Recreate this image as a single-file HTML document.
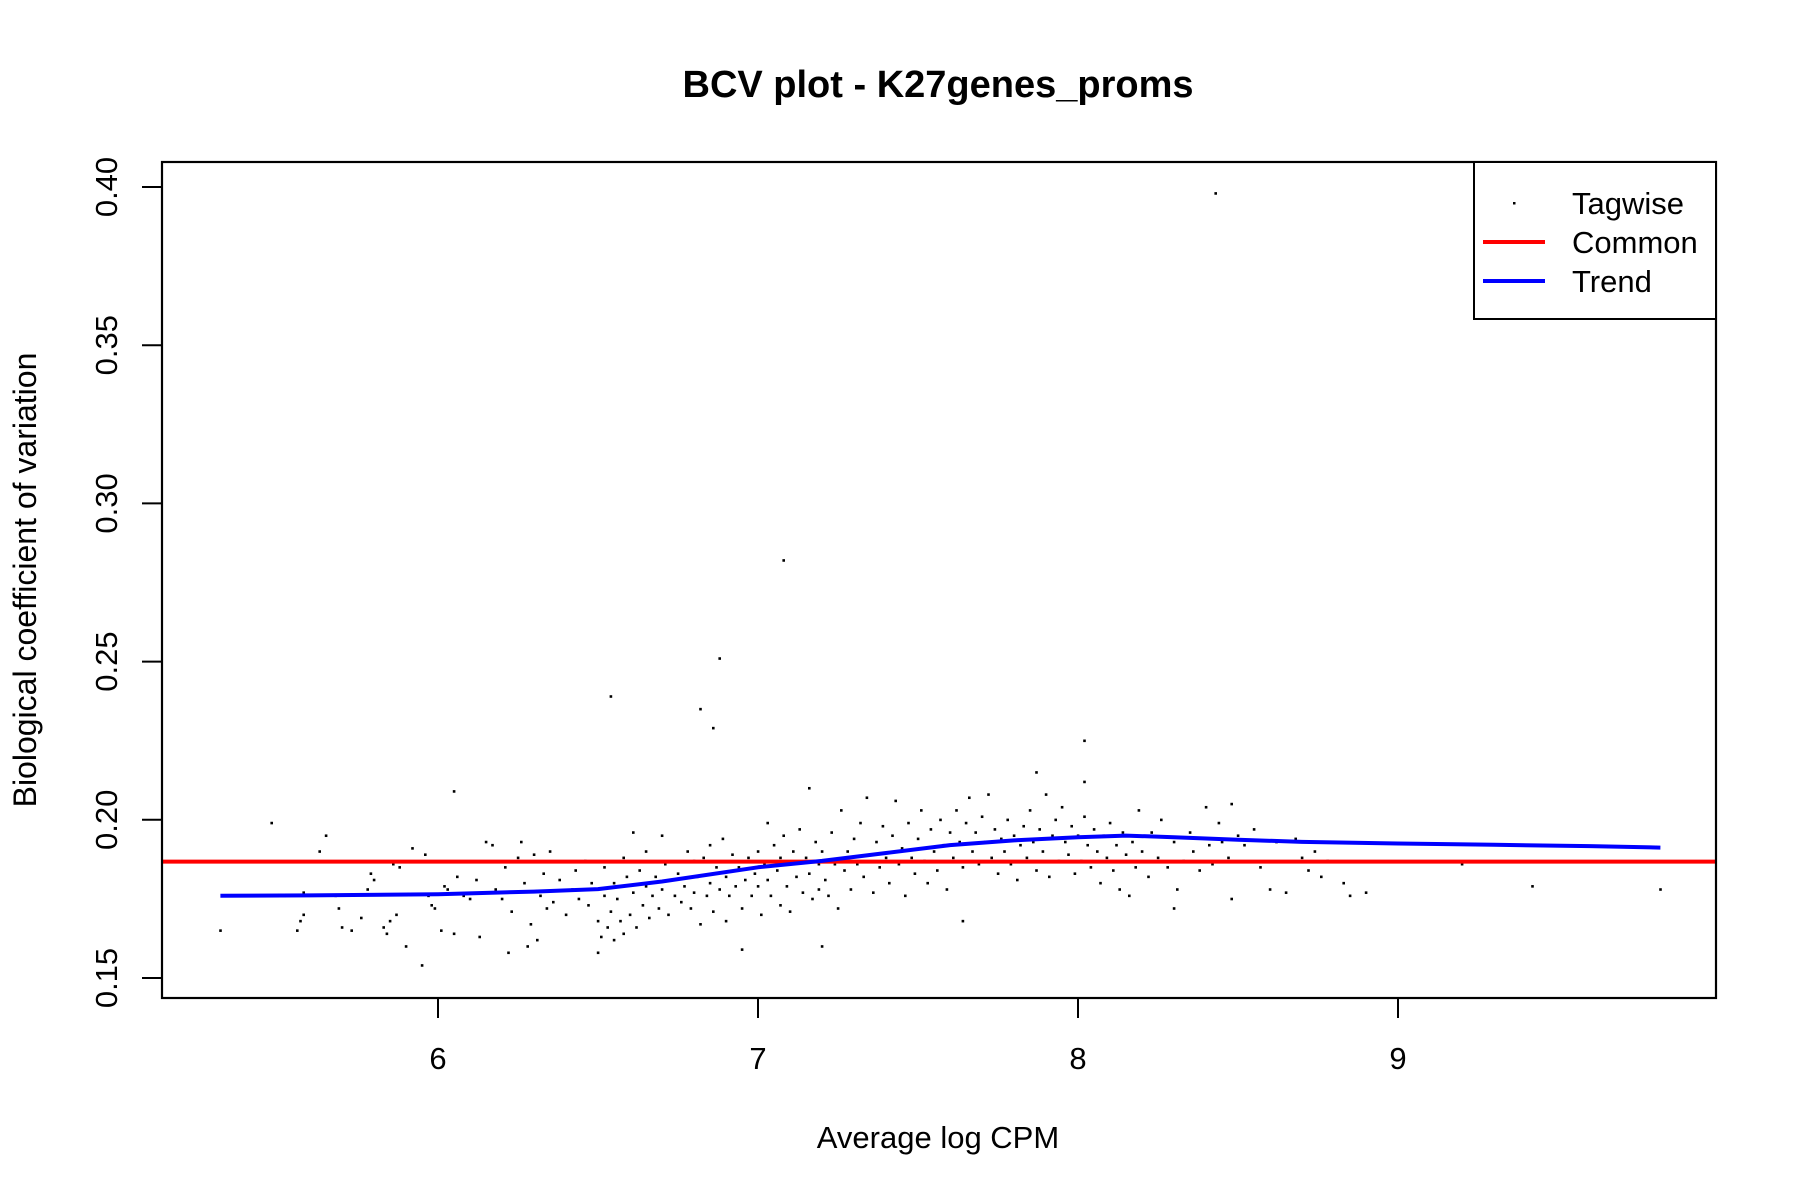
<!DOCTYPE html>
<html><head><meta charset="utf-8"><title>BCV plot</title>
<style>html,body{margin:0;padding:0;background:#fff}svg{display:block}text{font-family:"Liberation Sans",Arial,sans-serif}</style>
</head><body>
<svg id="chart" width="1800" height="1200" xmlns="http://www.w3.org/2000/svg">
<text x="938" y="97" text-anchor="middle" font-size="38" font-weight="bold">BCV plot - K27genes_proms</text>
<text x="938" y="1148" text-anchor="middle" font-size="31">Average log CPM</text>
<text transform="translate(36,580) rotate(-90)" text-anchor="middle" font-size="32">Biological coefficient of variation</text>
<g id="marks"></g>
<rect x="162" y="162" width="1554" height="836" fill="none" stroke="#000" stroke-width="2.2"/>
<g>
<rect x="1474" y="162" width="242" height="157" fill="#fff" stroke="#000" stroke-width="2"/>
<rect x="1513" y="202" width="2.5" height="2.5" fill="#000"/>
<text x="1572" y="214" font-size="31">Tagwise</text>
<line x1="1483" y1="242" x2="1545" y2="242" stroke="#ff0000" stroke-width="4"/>
<text x="1572" y="253" font-size="31">Common</text>
<line x1="1483" y1="281" x2="1545" y2="281" stroke="#0000ff" stroke-width="4"/>
<text x="1572" y="292" font-size="31">Trend</text>
</g>
</svg>
<script>
const xTicks = [6, 7, 8, 9];
const yTicks = [0.15, 0.20, 0.25, 0.30, 0.35, 0.40];
const yTickLabels = ["0.15", "0.20", "0.25", "0.30", "0.35", "0.40"];
const commonBCV = 0.1868;
const trendLogCPM = [5.32, 5.6, 6.0, 6.3, 6.5, 6.7, 7.0, 7.2, 7.4, 7.6, 7.8, 8.0, 8.15, 8.3, 8.5, 8.7, 9.0, 9.3, 9.6, 9.82];
const trendBCV = [0.1760, 0.1761, 0.1765, 0.1773, 0.1781, 0.1805, 0.1850, 0.1870, 0.1895, 0.1920, 0.1935, 0.1945, 0.1950, 0.1945, 0.1937, 0.1930, 0.1925, 0.1921, 0.1917, 0.1912];
const tagwise = [
[8.43,0.398],[7.08,0.282],[6.88,0.251],[6.54,0.239],[6.82,0.235],[6.86,0.229],[8.02,0.225],[7.87,0.215],[8.02,0.212],[7.16,0.210],[6.05,0.209],[5.48,0.199],[5.65,0.195],[5.32,0.165],[5.95,0.154],[9.82,0.178],[9.42,0.179],[8.3,0.172],[8.48,0.175],[7.2,0.160],[6.95,0.159],[6.5,0.158],[6.22,0.158],[7.64,0.168],[9.2,0.186],[8.9,0.177],[8.85,0.176],[8.83,0.18],
[5.56,0.165],[5.57,0.168],[5.58,0.170],[5.58,0.177],[5.63,0.190],[5.68,0.176],[5.69,0.172],[5.70,0.166],[5.73,0.165],[5.76,0.169],[5.78,0.178],[5.79,0.183],[5.80,0.181],[5.83,0.166],[5.84,0.164],[5.85,0.168],[5.86,0.186],[5.87,0.170],[5.88,0.185],[5.90,0.160],[5.92,0.191],[5.96,0.189],[5.97,0.176],[5.98,0.173],[5.99,0.172],[6.01,0.165],[6.02,0.179],[6.03,0.178],[6.05,0.164],[6.06,0.182],[6.08,0.176],[6.10,0.175],[6.12,0.181],[6.13,0.163],[6.15,0.193],[6.17,0.192],[6.18,0.178],[6.20,0.175],[6.21,0.185],[6.23,0.171],[6.25,0.188],[6.26,0.193],[6.27,0.180],[6.28,0.160],[6.29,0.167],[6.30,0.189],[6.31,0.162],[6.32,0.176],[6.33,0.183],[6.34,0.172],[6.35,0.190],[6.36,0.174],[6.38,0.181],[6.40,0.170],[6.42,0.178],[6.43,0.184],[6.44,0.175],[6.46,0.187],[6.47,0.173],[6.48,0.180],
[6.50,0.168],[6.51,0.163],[6.52,0.176],[6.52,0.185],[6.53,0.166],[6.54,0.171],[6.55,0.180],[6.55,0.162],[6.56,0.175],[6.57,0.168],[6.58,0.188],[6.58,0.164],[6.59,0.182],[6.60,0.170],[6.61,0.177],[6.61,0.196],[6.62,0.166],[6.63,0.184],[6.64,0.173],[6.65,0.179],[6.65,0.190],[6.66,0.169],[6.67,0.176],[6.68,0.182],[6.69,0.172],[6.70,0.195],[6.70,0.178],[6.71,0.186],[6.72,0.170],[6.73,0.181],[6.74,0.176],[6.75,0.183],[6.76,0.174],[6.77,0.179],[6.78,0.190],[6.79,0.172],[6.80,0.187],[6.80,0.177],[6.81,0.182],[6.82,0.167],[6.83,0.188],[6.84,0.176],[6.85,0.192],[6.85,0.180],[6.86,0.171],[6.87,0.185],[6.88,0.178],[6.89,0.194],[6.90,0.182],[6.90,0.168],[6.91,0.176],[6.92,0.189],[6.93,0.179],[6.94,0.185],[6.95,0.172],[6.96,0.181],[6.97,0.188],[6.98,0.176],[6.99,0.183],[7.00,0.190],[7.00,0.179],[7.01,0.170],[7.02,0.186],[7.03,0.199],[7.03,0.181],[7.04,0.176],[7.05,0.192],[7.06,0.184],[7.07,0.173],[7.07,0.188],[7.08,0.195],[7.09,0.179],[7.10,0.186],[7.10,0.171],[7.11,0.190],[7.12,0.182],[7.13,0.197],[7.14,0.177],[7.15,0.188],[7.16,0.183],[7.17,0.175],[7.18,0.193],[7.19,0.186],[7.19,0.178],
[7.20,0.190],[7.21,0.181],[7.22,0.176],[7.23,0.196],[7.24,0.186],[7.25,0.172],[7.26,0.203],[7.27,0.184],[7.28,0.190],[7.29,0.178],[7.30,0.194],[7.31,0.186],[7.32,0.199],[7.33,0.182],[7.34,0.207],[7.35,0.189],[7.36,0.177],[7.37,0.193],[7.38,0.185],[7.39,0.198],[7.40,0.188],[7.41,0.180],[7.42,0.195],[7.43,0.206],[7.44,0.186],[7.45,0.191],[7.46,0.176],[7.47,0.199],[7.48,0.188],[7.49,0.183],[7.50,0.194],[7.51,0.203],[7.52,0.187],[7.53,0.180],[7.54,0.197],[7.55,0.190],[7.56,0.184],[7.57,0.200],[7.58,0.192],[7.59,0.178],[7.60,0.196],[7.61,0.188],[7.62,0.203],[7.63,0.193],[7.64,0.185],[7.65,0.199],[7.66,0.207],[7.67,0.190],[7.68,0.196],[7.69,0.186],[7.70,0.201],[7.71,0.193],[7.72,0.208],[7.73,0.188],[7.74,0.197],[7.75,0.183],[7.76,0.194],[7.77,0.190],[7.78,0.200],[7.79,0.186],[7.80,0.195],[7.81,0.181],[7.82,0.192],[7.83,0.198],[7.84,0.188],[7.85,0.203],[7.86,0.193],[7.87,0.184],[7.88,0.197],[7.89,0.190],[7.90,0.208],[7.91,0.182],[7.92,0.195],[7.93,0.200],[7.94,0.187],[7.95,0.204],[7.96,0.193],[7.97,0.189],[7.98,0.198],[7.99,0.183],[8.00,0.195],[8.01,0.187],[8.02,0.201],[8.03,0.192],[8.04,0.185],[8.05,0.197],[8.06,0.190],[8.07,0.180],[8.08,0.195],[8.09,0.188],[8.10,0.199],[8.11,0.184],[8.12,0.192],[8.13,0.178],[8.14,0.196],[8.15,0.189],[8.16,0.176],[8.17,0.193],[8.18,0.185],[8.19,0.203],
[8.20,0.190],[8.22,0.182],[8.23,0.196],[8.25,0.188],[8.26,0.200],[8.28,0.185],[8.30,0.193],[8.31,0.178],[8.33,0.187],[8.35,0.196],[8.36,0.190],[8.38,0.184],[8.40,0.204],[8.41,0.192],[8.42,0.186],[8.44,0.199],[8.45,0.193],[8.47,0.188],[8.48,0.205],[8.50,0.195],[8.52,0.192],[8.55,0.197],[8.57,0.185],[8.60,0.178],[8.62,0.193],[8.65,0.177],[8.68,0.194],[8.70,0.188],[8.72,0.184],[8.74,0.190],[8.76,0.182],[8.78,0.187]
];

const NS = "http://www.w3.org/2000/svg";
const PL = 162, PR = 1716, PT = 162, PB = 998;
function xScale(v) { return 438 + (v - 6) * 320; }
function yScale(v) { return 187 + (0.40 - v) * 3164; }
const svg = document.getElementById('chart');
const marks = document.getElementById('marks');
function mk(tag, attrs, parent) {
  const e = document.createElementNS(NS, tag);
  for (const k in attrs) e.setAttribute(k, attrs[k]);
  (parent || svg).appendChild(e);
  return e;
}
xTicks.forEach(t => {
  const X = xScale(t);
  const l = mk('line', {x1: X, y1: PB, x2: X, y2: PB + 20, stroke: '#000', 'stroke-width': 2});
  
  
  const tx = mk('text', {x: X, y: 1069, 'text-anchor': 'middle', 'font-size': 31});
  
  
  tx.textContent = String(t);
});
yTicks.forEach((t, i) => {
  const Y = yScale(t);
  const l = mk('line', {x1: PL - 20, y1: Y, x2: PL, y2: Y, stroke: '#000', 'stroke-width': 2});
  
  
  const tx = mk('text', {transform: 'translate(117,' + Y + ') rotate(-90)', 'text-anchor': 'middle', 'font-size': 31});
  
  
  tx.textContent = yTickLabels[i];
});
tagwise.forEach(p => {
  const r = mk('rect', {x: xScale(p[0]) - 1.2, y: yScale(p[1]) - 1.2, width: 2.6, height: 2.6, fill: '#000'}, marks);
  
  
});
const cl = mk('line', {x1: PL, y1: yScale(commonBCV), x2: PR, y2: yScale(commonBCV), stroke: '#ff0000', 'stroke-width': 4}, marks);


const pts = trendLogCPM.map((x, i) => xScale(x).toFixed(1) + ',' + yScale(trendBCV[i]).toFixed(1)).join(' ');
const tl = mk('polyline', {points: pts, fill: 'none', stroke: '#0000ff', 'stroke-width': 4, 'stroke-linejoin': 'round'}, marks);


</script>
</body></html>
